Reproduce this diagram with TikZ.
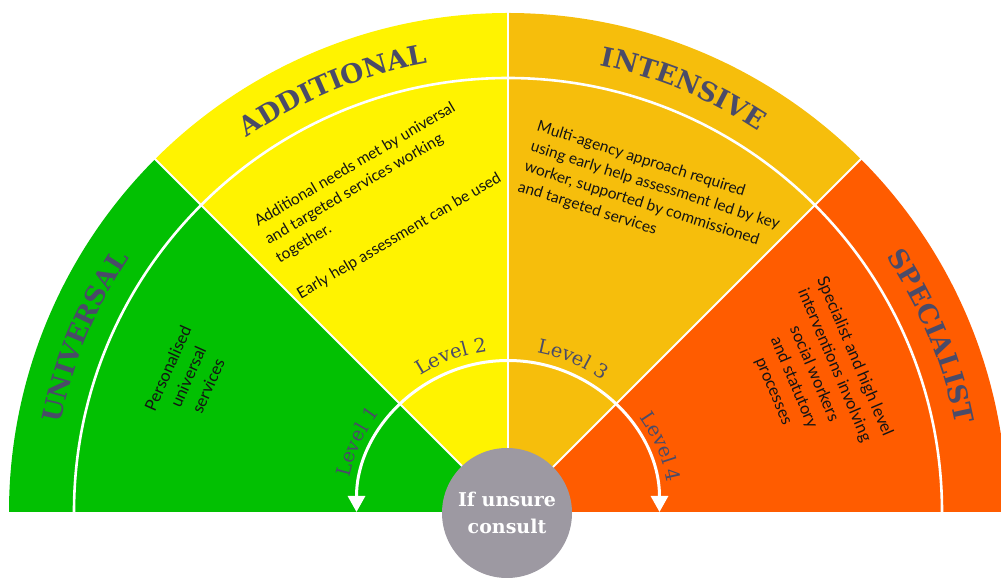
\documentclass[tikz,border=0pt]{standalone}
\usepackage{fontspec}
\setmainfont{Lato}
\newfontfamily\slabfont{DejaVu Serif}
\usetikzlibrary{decorations.text,arrows.meta,calc}
\definecolor{cgreen}{RGB}{2,192,2}
\definecolor{cyellow}{RGB}{255,243,0}
\definecolor{camber}{RGB}{246,190,12}
\definecolor{corange}{RGB}{255,92,0}
\definecolor{headcol}{RGB}{74,75,104}
\definecolor{bodycol}{RGB}{20,20,20}
\definecolor{ccircle}{RGB}{157,153,162}
\newcommand\hdfont{\slabfont\bfseries\fontsize{26.5}{30}\selectfont\color{headcol}}
\newcommand\lvfont{\slabfont\fontsize{19.5}{20}\selectfont\color{headcol}}
\begin{document}
\begin{tikzpicture}[x=1pt,y=1pt,
  divider/.style={draw=white,line width=2pt},
  ringline/.style={draw=white,line width=2.6pt},
  bodytext/.style={font=\fontsize{15.5}{21}\selectfont,text=bodycol,inner sep=0pt},
  bigbody/.style={bodytext,font=\fontsize{16.5}{22}\selectfont},
  levelarrow/.style={draw=white,line width=3pt,{Triangle[width=17pt,length=16pt]}-{Triangle[width=17pt,length=16pt]}},
  consultnode/.style={circle,fill=ccircle,minimum size=130pt,inner sep=0pt,text=white,align=center,
    font=\slabfont\bfseries\fontsize{19}{27}\selectfont}]
\useasboundingbox (0,0) rectangle (1001,578);
\clip (0,0) rectangle (1001,578);
\coordinate (O) at (508,66);
% sectors
\fill[cgreen]  (O) -- ++(180:499) arc[start angle=180,end angle=135,radius=499] -- cycle;
\fill[cyellow] (O) -- ++(135:499) arc[start angle=135,end angle=90,radius=499] -- cycle;
\fill[camber]  (O) -- ++(90:499) arc[start angle=90,end angle=45,radius=499] -- cycle;
\fill[corange] (O) -- ++(45:499) arc[start angle=45,end angle=0,radius=499] -- cycle;
% dividers
\foreach \a in {45,90,135} \draw[divider] (O) -- ++(\a:500);
\draw[ringline] ($(O)+(180:434)$) arc[start angle=180,end angle=0,radius=434];
% headings along the ring
\path[decorate,decoration={text along path,text align=center,text={|\hdfont|UNIVERSAL}}]
  ($(O)+(180:456)$) arc[start angle=180,end angle=135,radius=456];
\path[decorate,decoration={text along path,text align=center,text={|\hdfont|ADDITIONAL}}]
  ($(O)+(135:456)$) arc[start angle=135,end angle=90,radius=456];
\path[decorate,decoration={text along path,text align=center,text={|\hdfont|INTENSIVE}}]
  ($(O)+(90:456)$) arc[start angle=90,end angle=45,radius=456];
\path[decorate,decoration={text along path,text align=center,text={|\hdfont|SPECIALIST}}]
  ($(O)+(45:456)$) arc[start angle=45,end angle=0,radius=456];
% body texts
\node[bigbody,align=center,rotate=66] (tuniv) at (188,201) {Personalised\\universal\\services};
\node[bodytext,align=left,rotate=30.5] (taddl) at (378,378) {Additional needs met by universal\\and targeted services working\\together.\\[21pt]Early help assessment can be used};
\node[bodytext,align=left,rotate=-17.5] (tintn) at (652,382) {Multi-agency approach required\\using early help assessment led by key\\worker, supported by commissioned\\and targeted services};
\node[bigbody,align=center,rotate=-67] (tspec) at (814,204) {Specialist and high level\\interventions involving\\social workers\\and statutory\\processes};
% level arrow
\draw[levelarrow] ($(O)+(180:151.5)$) arc[start angle=180,end angle=0,radius=151.5];
\path[decorate,decoration={text along path,text align=center,text={|\lvfont|Level 1}}]
  ($(O)+(185:162)$) arc[start angle=185,end angle=125,radius=162];
\path[decorate,decoration={text along path,text align=center,text={|\lvfont|Level 2}}]
  ($(O)+(140:162)$) arc[start angle=140,end angle=80,radius=162];
\path[decorate,decoration={text along path,text align=center,text={|\lvfont|Level 3}}]
  ($(O)+(97:162)$) arc[start angle=97,end angle=37,radius=162];
\path[decorate,decoration={text along path,text align=center,text={|\lvfont|Level 4}}]
  ($(O)+(53:162)$) arc[start angle=53,end angle=-7,radius=162];
% centre
\node[consultnode] (consult) at (507,65) {If unsure\\consult};
\end{tikzpicture}
\end{document}
